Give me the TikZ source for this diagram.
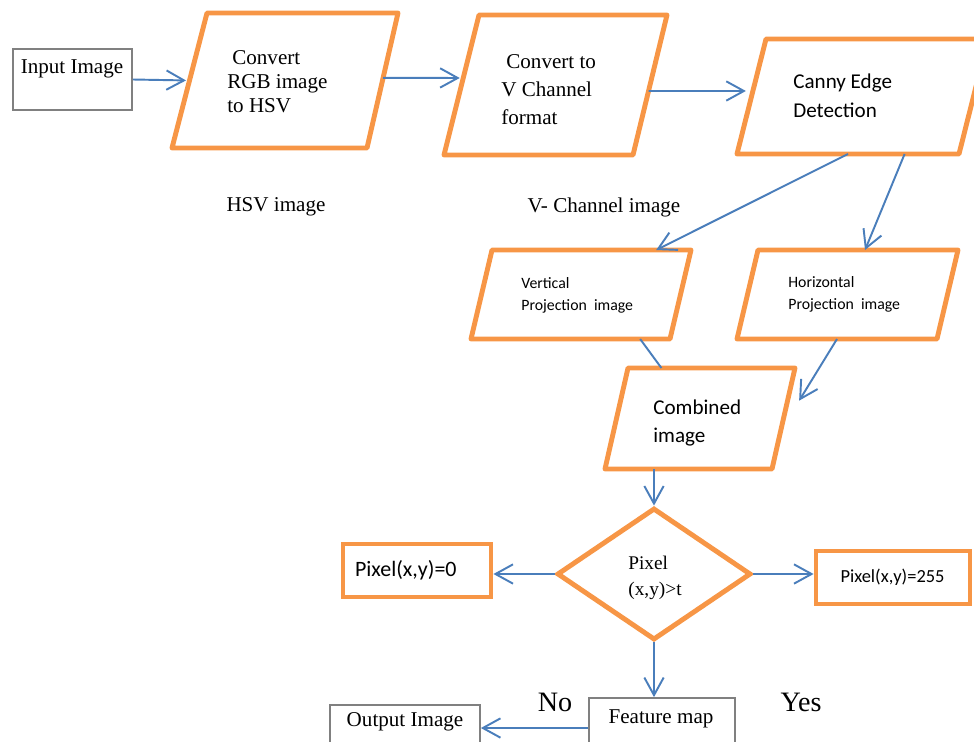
\documentclass[tikz,border=0pt]{standalone}
\usepackage{fontspec}
\setmainfont{Liberation Serif}
\newfontfamily\calibri{Carlito}
\usepackage{tikz}
\usetikzlibrary{shapes.geometric, arrows.meta, calc}

\definecolor{boxorange}{RGB}{247,150,70}
\definecolor{flowblue}{RGB}{74,126,187}
\definecolor{boxgray}{RGB}{128,128,128}

\begin{document}
\begin{tikzpicture}[x=0.02cm, y=-0.02cm,
    para/.style={draw=boxorange, line width=2.8pt, line join=round},
    decide/.style={diamond, draw=boxorange, line width=2.8pt, inner sep=0pt},
    obox/.style={rectangle, draw=boxorange, line width=2.8pt, inner sep=0pt, align=left},
    gbox/.style={rectangle, draw=boxgray, line width=1pt, inner sep=0pt},
    lbl/.style={inner sep=0pt, font=\fontsize{12}{14.4}\selectfont},
    ptxt/.style={inner sep=0pt, anchor=west, align=left},
    arr/.style={draw=flowblue, line width=1.1pt, -{Straight Barb[length=10pt,width=11pt]}}]
                \useasboundingbox (0,0) rectangle (974,741);
                % parallelograms
                \draw[para] (207,13) coordinate (rgb-tl) -- (398,13) coordinate (rgb-tr) -- (367,148) coordinate (rgb-br) -- (172,148) coordinate (rgb-bl) -- cycle;
                \draw[para] (479,15) coordinate (vch-tl) -- (667,15) coordinate (vch-tr) -- (633,155) coordinate (vch-br) -- (444,155) coordinate (vch-bl) -- cycle;
                \draw[para] (766,39) coordinate (canny-tl) -- (988,39) coordinate (canny-tr) -- (959,154) coordinate (canny-br) -- (737,154) coordinate (canny-bl) -- cycle;
                \draw[para] (492,250) coordinate (vproj-tl) -- (691,250) coordinate (vproj-tr) -- (670,339) coordinate (vproj-br) -- (471,339) coordinate (vproj-bl) -- cycle;
                \draw[para] (758,250) coordinate (hproj-tl) -- (958,250) coordinate (hproj-tr) -- (937,339) coordinate (hproj-br) -- (737,339) coordinate (hproj-bl) -- cycle;
                \draw[para] (628,368) coordinate (comb-tl) -- (795,368) coordinate (comb-tr) -- (772,469) coordinate (comb-br) -- (605,469) coordinate (comb-bl) -- cycle;
                \node[ptxt, font=\fontsize{12}{13.6}\selectfont] (rgb) at (227,82) {\hspace*{0.1cm}Convert\\RGB image\\to HSV};
                \node[ptxt, font=\fontsize{12}{15.9}\selectfont] (vch) at (501,89.5) {\hspace*{0.1cm}Convert to\\V Channel\\format};
                \node[ptxt, font=\calibri\fontsize{12}{16.4}\selectfont] (canny) at (793,95.5) {Canny Edge\\Detection};
                \node[ptxt, font=\calibri\fontsize{9}{12.5}\selectfont] (vproj) at (521,295.5) {Vertical\\Projection~ image};
                \node[ptxt, font=\calibri\fontsize{9}{12.5}\selectfont] (hproj) at (788,294.5) {Horizontal\\Projection~ image};
                \node[ptxt, font=\calibri\fontsize{12}{16}\selectfont] (comb) at (653,423) {Combined\\image};
                % boxes
                \node[gbox, minimum width=2.38cm, minimum height=1.22cm] (input) at (72.5,79.5) {};
                \node[lbl] (inputtxt) at (72,69) {Input Image};
                \node[lbl] (hsvtxt) at (276,207) {HSV image};
                \node[lbl] (vchtxt) at (604,207) {V- Channel image};
                \node[decide, minimum width=3.88cm, minimum height=2.64cm] (thr) at (654,574) {};
                \node[ptxt, font=\fontsize{11}{15}\selectfont] (thrtxt) at (628,578) {Pixel\\(x,y)>t};
                \node[obox, minimum width=2.96cm, minimum height=1.06cm, text width=2.48cm, font=\calibri\fontsize{12.5}{15}\selectfont] (zero) at (417,570.5) {Pixel(x,y)=0};
                \node[obox, minimum width=3.08cm, minimum height=1.06cm, text width=2.1cm, font=\calibri\fontsize{10.5}{13}\selectfont] (full) at (893,577.5) {Pixel(x,y)=255};
                \node[gbox, minimum width=2.92cm, minimum height=1.2cm] (feat) at (662,728) {};
                \node[lbl] (feattxt) at (661,719) {Feature map};
                \node[gbox, minimum width=3cm, minimum height=1.2cm] (outimg) at (405,735) {};
                \node[lbl] (outtxt) at (405,722) {Output Image};
                \node[lbl, font=\fontsize{16}{19}\selectfont] (notxt) at (555,702) {No};
                \node[lbl, font=\fontsize{16}{19}\selectfont] (yestxt) at (801,702) {Yes};

                \draw[arr, shorten >=2pt] (input.east) -- ($(rgb-tl)!0.5!(rgb-bl)$);
                \draw[arr, shorten >=2pt] ($(rgb-tr)!0.48!(rgb-br)$) -- ($(vch-tl)!0.45!(vch-bl)$);
                \draw[arr, shorten >=4pt] ($(vch-tr)!0.543!(vch-br)$) -- ($(canny-tl)!0.452!(canny-bl)$);
                \draw[arr] ($(canny-bl)!0.5!(canny-br)$) -- ($(vproj-tl)!0.825!(vproj-tr)$);
                \draw[arr] ($(canny-bl)!0.755!(canny-br)$) -- ($(hproj-tl)!0.535!(hproj-tr)$);
                \draw[draw=flowblue, line width=1.1pt] ($(vproj-bl)!0.85!(vproj-br)$) -- ($(comb-tl)!0.2!(comb-tr)$);
                \draw[arr, shorten >=20pt] ($(hproj-bl)!0.5!(hproj-br)$) -- ($(comb-tr)!0.62!(comb-br)$);
                \draw[arr] (thr.north |- comb-bl) -- (thr.north);
                \draw[arr] (thr.west) -- (thr.west -| zero.east);
                \draw[arr] (thr.east) -- (thr.east -| full.west);
                \draw[arr] (thr.south) -- (thr.south |- feat.north);
                \draw[arr] (feat.west) -- (feat.west -| outimg.east);
            \end{tikzpicture}
\end{document}
